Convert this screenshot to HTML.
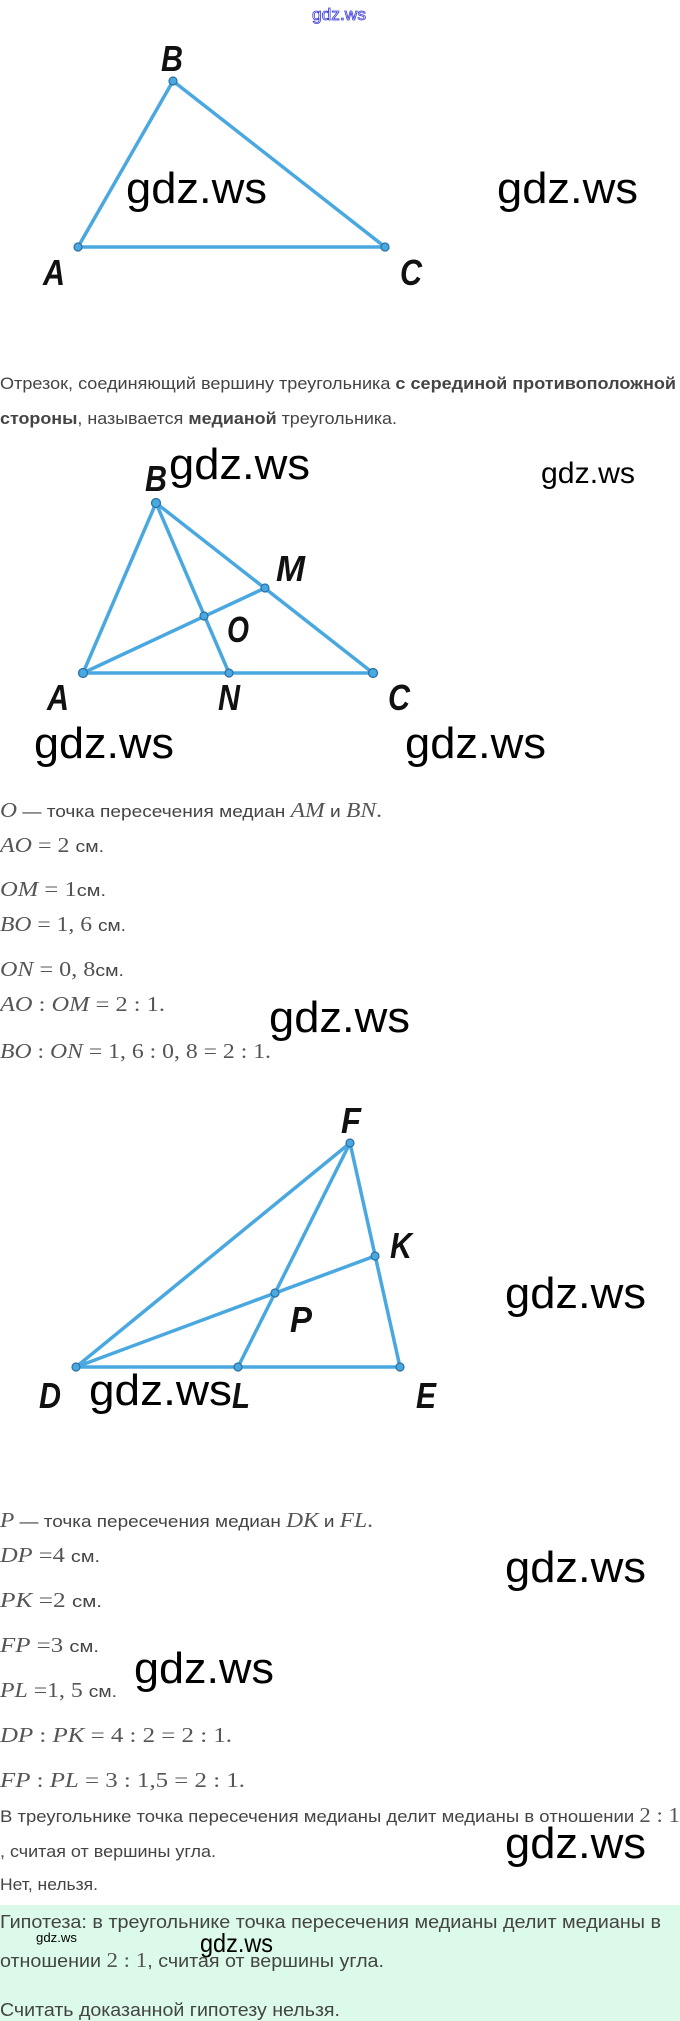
<!DOCTYPE html>
<html><head><meta charset="utf-8"><style>
html,body{margin:0;padding:0;background:#fff;width:680px;height:2021px;overflow:hidden}
svg{display:block}
.t{font-family:"Liberation Sans",sans-serif;font-size:17px;fill:#444}
.m{font-family:"Liberation Serif",serif;font-size:21px;fill:#555}
.i{font-style:italic}
.w{font-family:"Liberation Sans",sans-serif;fill:#000}
.L{font-family:"Liberation Sans",sans-serif;font-weight:bold;font-style:italic;font-size:36px;fill:#111}
.ln{stroke:#4aa8e0;stroke-width:3.5;fill:none;stroke-linecap:round}
.pt{fill:#4aa8e0;stroke:#2c6fa3;stroke-width:1.2}
</style></head><body>
<svg width="680" height="2021" viewBox="0 0 680 2021" xmlns="http://www.w3.org/2000/svg">
<rect x="0" y="1905" width="680" height="116" fill="#dcfae9"/>
<text x="312" y="20" textLength="54" lengthAdjust="spacingAndGlyphs" style="font-family:'Liberation Sans',sans-serif;font-size:17px;fill:#fff;stroke:#3a3ad8;stroke-width:0.8">gdz.ws</text>

<!-- triangle 1 -->
<polyline class="ln" points="78,247 173,81 385,247 78,247"/>
<circle class="pt" cx="173" cy="81" r="4"/><circle class="pt" cx="78" cy="247" r="4"/><circle class="pt" cx="385" cy="247" r="4"/>
<text class="L" x="161" y="71" textLength="22" lengthAdjust="spacingAndGlyphs">B</text>
<text class="L" x="43" y="285" textLength="22" lengthAdjust="spacingAndGlyphs">A</text>
<text class="L" x="400" y="285" textLength="22" lengthAdjust="spacingAndGlyphs">C</text>
<text class="w" x="126" y="203" font-size="44" textLength="141" lengthAdjust="spacingAndGlyphs">gdz.ws</text>
<text class="w" x="497" y="203" font-size="44" textLength="141" lengthAdjust="spacingAndGlyphs">gdz.ws</text>

<text class="t" x="0" y="389" textLength="676" lengthAdjust="spacingAndGlyphs">Отрезок, соединяющий вершину треугольника <tspan font-weight="bold">с серединой противоположной</tspan></text>
<text class="t" x="0" y="424" textLength="397" lengthAdjust="spacingAndGlyphs"><tspan font-weight="bold">стороны</tspan>, называется <tspan font-weight="bold">медианой</tspan> треугольника.</text>

<!-- triangle 2 -->
<polyline class="ln" points="83,673 156,503 373,673 83,673"/>
<line class="ln" x1="156" y1="503" x2="229" y2="673"/>
<line class="ln" x1="83" y1="673" x2="265" y2="588"/>
<circle class="pt" cx="156" cy="503" r="4.5"/><circle class="pt" cx="83" cy="673" r="4.5"/><circle class="pt" cx="373" cy="673" r="4.5"/>
<circle class="pt" cx="229" cy="673" r="4"/><circle class="pt" cx="265" cy="588" r="4"/><circle class="pt" cx="204" cy="616" r="4"/>
<text class="L" x="145" y="491" textLength="22" lengthAdjust="spacingAndGlyphs">B</text>
<text class="L" x="276" y="581" textLength="29" lengthAdjust="spacingAndGlyphs">M</text>
<text class="L" x="227" y="642" textLength="22" lengthAdjust="spacingAndGlyphs">O</text>
<text class="L" x="47" y="710" textLength="22" lengthAdjust="spacingAndGlyphs">A</text>
<text class="L" x="218" y="710" textLength="22" lengthAdjust="spacingAndGlyphs">N</text>
<text class="L" x="388" y="710" textLength="22" lengthAdjust="spacingAndGlyphs">C</text>
<text class="w" x="169" y="479" font-size="44" textLength="141" lengthAdjust="spacingAndGlyphs">gdz.ws</text>
<text class="w" x="541" y="483" font-size="30" textLength="94" lengthAdjust="spacingAndGlyphs">gdz.ws</text>
<text class="w" x="34" y="758" font-size="44" textLength="140" lengthAdjust="spacingAndGlyphs">gdz.ws</text>
<text class="w" x="405" y="758" font-size="44" textLength="141" lengthAdjust="spacingAndGlyphs">gdz.ws</text>

<text x="0" y="817" textLength="382" lengthAdjust="spacingAndGlyphs"><tspan class="m i">O</tspan><tspan class="t"> — точка пересечения медиан </tspan><tspan class="m i">AM</tspan><tspan class="t"> и </tspan><tspan class="m i">BN</tspan><tspan class="m">.</tspan></text>
<text x="0" y="852" textLength="104" lengthAdjust="spacingAndGlyphs"><tspan class="m i">AO</tspan><tspan class="m"> = 2 </tspan><tspan class="t">см.</tspan></text>
<text x="0" y="896" textLength="106" lengthAdjust="spacingAndGlyphs"><tspan class="m i">OM</tspan><tspan class="m"> = 1</tspan><tspan class="t">см.</tspan></text>
<text x="0" y="931" textLength="126" lengthAdjust="spacingAndGlyphs"><tspan class="m i">BO</tspan><tspan class="m"> = 1, 6 </tspan><tspan class="t">см.</tspan></text>
<text x="0" y="976" textLength="124" lengthAdjust="spacingAndGlyphs"><tspan class="m i">ON</tspan><tspan class="m"> = 0, 8</tspan><tspan class="t">см.</tspan></text>
<text x="0" y="1011" textLength="165" lengthAdjust="spacingAndGlyphs"><tspan class="m i">AO</tspan><tspan class="m"> : </tspan><tspan class="m i">OM</tspan><tspan class="m"> = 2 : 1.</tspan></text>
<text x="0" y="1058" textLength="271" lengthAdjust="spacingAndGlyphs"><tspan class="m i">BO</tspan><tspan class="m"> : </tspan><tspan class="m i">ON</tspan><tspan class="m"> = 1, 6 : 0, 8 = 2 : 1.</tspan></text>
<text class="w" x="269" y="1032" font-size="44" textLength="141" lengthAdjust="spacingAndGlyphs">gdz.ws</text>

<!-- triangle 3 -->
<polyline class="ln" points="76,1367 350,1143 400,1367 76,1367"/>
<line class="ln" x1="350" y1="1143" x2="238" y2="1367"/>
<line class="ln" x1="76" y1="1367" x2="375" y2="1256"/>
<circle class="pt" cx="350" cy="1143" r="4"/><circle class="pt" cx="76" cy="1367" r="4"/><circle class="pt" cx="400" cy="1367" r="4"/>
<circle class="pt" cx="238" cy="1367" r="4"/><circle class="pt" cx="375" cy="1256" r="4"/><circle class="pt" cx="275" cy="1293" r="4"/>
<text class="L" x="341" y="1133" textLength="20" lengthAdjust="spacingAndGlyphs">F</text>
<text class="L" x="390" y="1258" textLength="22" lengthAdjust="spacingAndGlyphs">K</text>
<text class="L" x="290" y="1332" textLength="22" lengthAdjust="spacingAndGlyphs">P</text>
<text class="L" x="39" y="1408" textLength="22" lengthAdjust="spacingAndGlyphs">D</text>
<text class="L" x="232" y="1408" textLength="18" lengthAdjust="spacingAndGlyphs">L</text>
<text class="L" x="416" y="1408" textLength="20" lengthAdjust="spacingAndGlyphs">E</text>
<text class="w" x="505" y="1308" font-size="44" textLength="141" lengthAdjust="spacingAndGlyphs">gdz.ws</text>
<text class="w" x="89" y="1405" font-size="44" textLength="143" lengthAdjust="spacingAndGlyphs">gdz.ws</text>

<text x="0" y="1527" textLength="373" lengthAdjust="spacingAndGlyphs"><tspan class="m i">P</tspan><tspan class="t"> — точка пересечения медиан </tspan><tspan class="m i">DK</tspan><tspan class="t"> и </tspan><tspan class="m i">FL</tspan><tspan class="m">.</tspan></text>
<text x="0" y="1562" textLength="100" lengthAdjust="spacingAndGlyphs"><tspan class="m i">DP</tspan><tspan class="m"> =4 </tspan><tspan class="t">см.</tspan></text>
<text x="0" y="1607" textLength="102" lengthAdjust="spacingAndGlyphs"><tspan class="m i">PK</tspan><tspan class="m"> =2 </tspan><tspan class="t">см.</tspan></text>
<text x="0" y="1652" textLength="99" lengthAdjust="spacingAndGlyphs"><tspan class="m i">FP</tspan><tspan class="m"> =3 </tspan><tspan class="t">см.</tspan></text>
<text x="0" y="1697" textLength="117" lengthAdjust="spacingAndGlyphs"><tspan class="m i">PL</tspan><tspan class="m"> =1, 5 </tspan><tspan class="t">см.</tspan></text>
<text x="0" y="1742" textLength="232" lengthAdjust="spacingAndGlyphs"><tspan class="m i">DP</tspan><tspan class="m"> : </tspan><tspan class="m i">PK</tspan><tspan class="m"> = 4 : 2 = 2 : 1.</tspan></text>
<text x="0" y="1787" textLength="245" lengthAdjust="spacingAndGlyphs"><tspan class="m i">FP</tspan><tspan class="m"> : </tspan><tspan class="m i">PL</tspan><tspan class="m"> = 3 : 1,5 = 2 : 1.</tspan></text>
<text x="0" y="1822" textLength="680" lengthAdjust="spacingAndGlyphs"><tspan class="t">В треугольнике точка пересечения медианы делит медианы в отношении </tspan><tspan class="m">2 : 1</tspan></text>
<text class="t" x="0" y="1857" textLength="216" lengthAdjust="spacingAndGlyphs">, считая от вершины угла.</text>
<text class="t" x="0" y="1890" textLength="98" lengthAdjust="spacingAndGlyphs">Нет, нельзя.</text>
<text class="w" x="505" y="1582" font-size="44" textLength="141" lengthAdjust="spacingAndGlyphs">gdz.ws</text>
<text class="w" x="134" y="1683" font-size="44" textLength="140" lengthAdjust="spacingAndGlyphs">gdz.ws</text>
<text class="w" x="505" y="1858" font-size="44" textLength="141" lengthAdjust="spacingAndGlyphs">gdz.ws</text>

<text class="t" x="0" y="1928" textLength="661" lengthAdjust="spacingAndGlyphs" style="font-size:18px">Гипотеза: в треугольнике точка пересечения медианы делит медианы в</text>
<text class="w" x="36" y="1942" font-size="13" textLength="41" lengthAdjust="spacingAndGlyphs">gdz.ws</text>
<text class="w" x="200" y="1952" font-size="26" textLength="73" lengthAdjust="spacingAndGlyphs">gdz.ws</text>
<text x="0" y="1967" textLength="384" lengthAdjust="spacingAndGlyphs"><tspan class="t" style="font-size:18px">отношении </tspan><tspan class="m">2 : 1</tspan><tspan class="t" style="font-size:18px">, считая от вершины угла.</tspan></text>
<text class="t" x="0" y="2016" textLength="340" lengthAdjust="spacingAndGlyphs" style="font-size:18px">Считать доказанной гипотезу нельзя.</text>
</svg>
</body></html>
